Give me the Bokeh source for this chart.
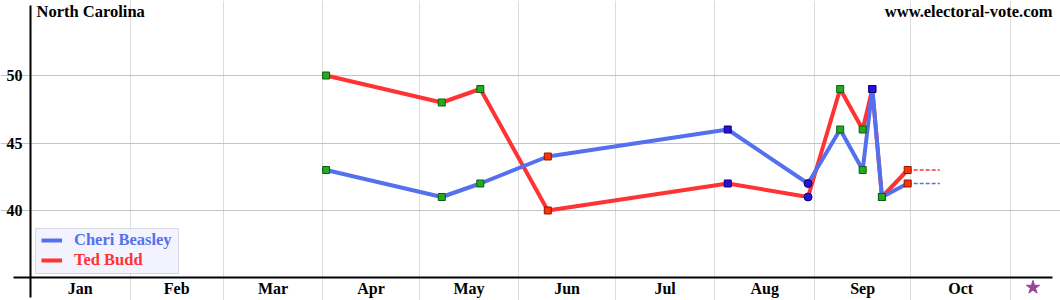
import datetime as dt
from bokeh.plotting import figure
from bokeh.models import (Range1d, LinearAxis, FixedTicker, Grid, Label, Legend,
                          LegendItem, BoxAnnotation, ColumnDataSource)
from bokeh.embed import file_html
from bokeh.resources import INLINE

# ---------------- data ----------------
state_name = "North Carolina"
site_name = "www.electoral-vote.com"
dem_name = "Cheri Beasley"
gop_name = "Ted Budd"

poll_dates = ["2024-04-02", "2024-05-08", "2024-05-20", "2024-06-10", "2024-08-05",
              "2024-08-30", "2024-09-09", "2024-09-16", "2024-09-19", "2024-09-22",
              "2024-09-30"]
beasley = [43, 41, 42, 44, 46, 42, 46, 43, 49, 41, 42]
budd = [50, 48, 49, 40, 42, 41, 49, 46, 49, 41, 43]
poll_group = ["A", "A", "A", "R", "B", "C", "A", "A", "B", "A", "R"]
extend_to = "2024-10-10"
election_mark = "2024-11-08"

month_labels = ["Jan", "Feb", "Mar", "Apr", "May", "Jun", "Jul", "Aug", "Sep", "Oct"]
month_starts = ["2024-01-01", "2024-02-01", "2024-03-01", "2024-04-01", "2024-05-01",
                "2024-06-01", "2024-07-01", "2024-08-01", "2024-09-01", "2024-10-01",
                "2024-11-01"]
y_ticks = [40, 45, 50]

# ---------------- helpers ----------------
BASE = dt.date(2024, 1, 1)


def day(s):
    return float((dt.date.fromisoformat(s) - BASE).days)


FONT = "Liberation Serif"
BLUE = "#5470EE"
RED = "#FF3333"
group_style = {
    "A": ("#22AA22", "#0B5E0B", "square", 7),
    "R": ("#FF3300", "#8A1A00", "square", 7),
    "B": ("#2A10E0", "#10006A", "square", 7),
    "C": ("#2A10E0", "#10006A", "circle", 8),
}

xs = [day(d) for d in poll_dates]
starts = [day(d) for d in month_starts]
mids = [(starts[i] + starts[i + 1]) / 2 for i in range(len(month_labels))]

p = figure(width=1060, height=300,
           x_range=Range1d(-9.337, 320.57), y_range=Range1d(33.333, 55.556),
           x_axis_type=None, y_axis_type=None,
           toolbar_location=None, output_backend="svg",
           min_border=0, outline_line_color=None,
           background_fill_color="white", border_fill_color="white")

# grids
vgrid = Grid(dimension=0, ticker=FixedTicker(ticks=starts[1:]),
             grid_line_color="#DDDDDD", grid_line_width=1, bounds=(33.333, 54.3))
hgrid = Grid(dimension=1, ticker=FixedTicker(ticks=y_ticks),
             grid_line_color="#C4C4C4", grid_line_width=1, bounds=(0, 318))
p.add_layout(vgrid, "center")
p.add_layout(hgrid, "center")

# lines
r_red = p.line(xs, budd, line_color=RED, line_width=4)
r_blue = p.line(xs, beasley, line_color=BLUE, line_width=4)
p.line([xs[-1], day(extend_to)], [budd[-1], budd[-1]], line_color=RED,
       line_width=1.5, line_dash="4 2")
p.line([xs[-1], day(extend_to)], [beasley[-1], beasley[-1]], line_color=BLUE,
       line_width=1.5, line_dash="4 2")

# markers
for vals in (budd, beasley):
    src = ColumnDataSource(dict(
        x=xs, y=vals,
        fill=[group_style[g][0] for g in poll_group],
        edge=[group_style[g][1] for g in poll_group],
        marker=[group_style[g][2] for g in poll_group],
        size=[group_style[g][3] for g in poll_group],
    ))
    p.scatter("x", "y", source=src, marker="marker", size="size",
              fill_color="fill", line_color="edge", line_width=1)

# election star
p.scatter([day(election_mark)], [34.3], marker="star", size=14,
          fill_color="#994499", line_color="#994499")

# axes
xaxis = LinearAxis(fixed_location=35, ticker=FixedTicker(ticks=mids),
                   major_label_overrides={m: lab for m, lab in zip(mids, month_labels)},
                   bounds=(-5.3, 318.0),
                   axis_line_color="black", axis_line_width=2,
                   major_tick_line_color=None, minor_tick_line_color=None,
                   major_tick_in=0, major_tick_out=0,
                   major_label_text_font=FONT, major_label_text_font_style="bold",
                   major_label_text_font_size="16px", major_label_text_color="black",
                   major_label_standoff=2)
p.add_layout(xaxis, "below")
yaxis = LinearAxis(fixed_location=0, ticker=FixedTicker(ticks=y_ticks),
                   bounds=(33.56, 55.19),
                   axis_line_color="black", axis_line_width=2,
                   major_tick_line_color=None, minor_tick_line_color=None,
                   major_tick_in=0, major_tick_out=0,
                   major_label_text_font=FONT, major_label_text_font_style="bold",
                   major_label_text_font_size="16px", major_label_text_color="black",
                   major_label_standoff=8)
p.add_layout(yaxis, "left")

# titles
p.add_layout(Label(x=36, y=300 - 1, x_units="screen", y_units="screen",
                   text=state_name, text_font=FONT, text_font_style="bold",
                   text_font_size="16.5px", text_color="black",
                   text_align="left", text_baseline="top"))
p.add_layout(Label(x=1052, y=300 - 1, x_units="screen", y_units="screen",
                   text=site_name, text_font=FONT, text_font_style="bold",
                   text_font_size="16.5px", text_color="black",
                   text_align="right", text_baseline="top"))

# legend box + legends
p.add_layout(BoxAnnotation(left=35, right=178, top=72, bottom=27,
                           left_units="screen", right_units="screen",
                           top_units="screen", bottom_units="screen",
                           fill_color="#F3F3FF", fill_alpha=1.0,
                           line_color="#8A8A9A", line_width=1))
for name, rend, col, yb in ((dem_name, r_blue, BLUE, 49.8), (gop_name, r_red, RED, 30.5)):
    lg = Legend(items=[LegendItem(label=name, renderers=[rend])],
                location=(41, yb), padding=0, margin=0, spacing=0,
                glyph_width=21, glyph_height=20, label_height=20,
                label_standoff=12, label_text_font=FONT,
                label_text_font_style="bold", label_text_font_size="16.5px",
                label_text_color=col, background_fill_alpha=0,
                border_line_color=None)
    p.add_layout(lg, "center")

open("out.html", "w").write(file_html(p, INLINE))
